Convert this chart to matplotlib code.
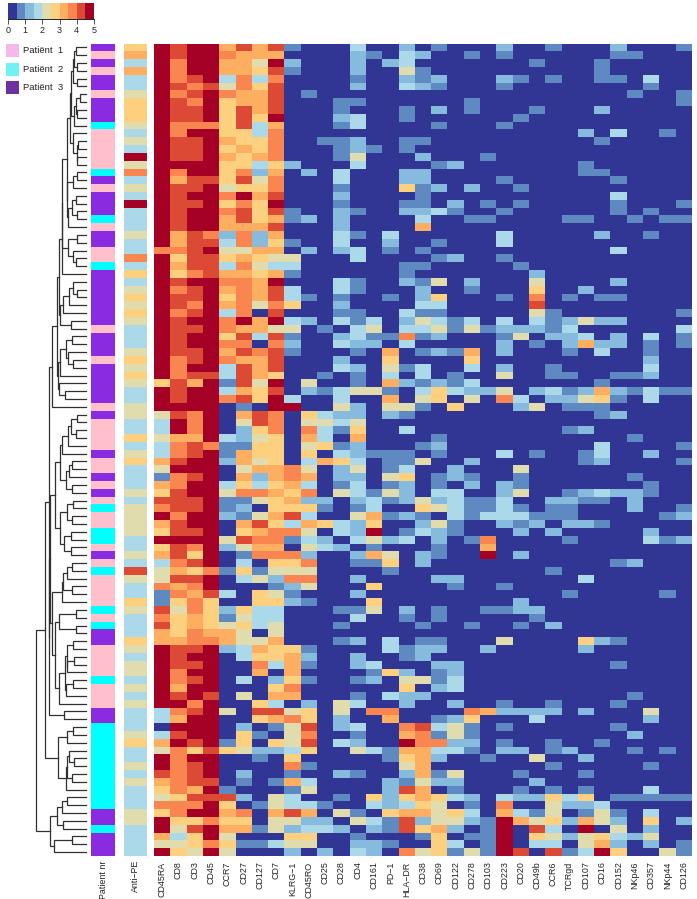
import numpy as np
import matplotlib
matplotlib.use('Agg')
import matplotlib.pyplot as plt
from matplotlib.colors import ListedColormap, BoundaryNorm
from matplotlib.patches import Rectangle

plt.rcParams['font.family'] = ['Liberation Sans', 'DejaVu Sans']

W, H = 697, 899

markers = ['CD45RA', 'CD8', 'CD3', 'CD45', 'CCR7', 'CD27', 'CD127', 'CD7', 'KLRG\u22121', 'CD45RO', 'CD25', 'CD28',
           'CD4', 'CD161', 'PD\u22121', 'HLA\u2212DR', 'CD38', 'CD69', 'CD122', 'CD278', 'CD103', 'CD223', 'CD20',
           'CD49b', 'CCR6', 'TCRgd', 'CD107', 'CD16', 'CD152', 'NKp46', 'CD357', 'NKp44', 'CD126']

bin_colors = ['#313695', '#5f8ac1', '#87bbdd', '#abd9e9', '#e0dcae', '#fdd080', '#fdae61', '#f98650', '#dc4a35', '#a50026']
patient_colors = ['#ffc0cb', '#00ffff', '#8a2be2']
legend_colors = ['#f4b8ea', '#70f2f5', '#7030a0']
legend_labels = ['Pati\u00ebnt  1', 'Pati\u00ebnt  2', 'Pati\u00ebnt  3']

# patient number per row, top to bottom
patient = ('3131331333' '2111112313' '3321331123' '3333331333' '1333331311'
           '1131131312' '1122131211' '1121233111' '1211133222' '2222222233' '2333')

# colour bin (0-9, each bin is 0.5 wide) per row
anti_pe = ('5636334555' '4343947343' '9333433735' '3454543334' '5454334433'
           '5345333434' '4443343843' '3543335434' '4343433345' '3343433344' '3333')

# CD45RA .. CD28
left_levels = [
    '989968681000', '989976660000', '979966492000', '979966581000', '978937370000', '987847580000',
    '978976680100', '987956680001', '988958680001', '988958590002', '977758360001', '979955370000',
    '988965570011', '988956570001', '988965670001', '999955352000', '979957260203', '968858470003',
    '988945570001', '989979680002', '988957590001', '989978581002', '989968561202', '989966680002',
    '968727260003', '968837251003', '778944660202', '958856544000', '968837433000', '957866561000',
    '989977690003', '978967683003', '988957683101', '987967475002', '978937080001', '989979693203',
    '988976644010', '989958381002', '989977072003', '988968781000', '978976680002', '979938680003',
    '978838650010', '586918490400', '989936580213', '989978593003', '999901099004', '487906870532',
    '397904870443', '397902570731', '466932450630', '378711550451', '378916550503', '689926450365',
    '499904667402', '178906267602', '679935356301', '589947765704', '888911456220', '788912055510',
    '979921468300', '689906853653', '588905677403', '999948771320', '587924660432', '685901777200',
    '378903055700', '465715144400', '488903427700', '767900012400', '176830541000', '157500552100',
    '847525330001', '756514330000', '856545340001', '657664040000', '667764460001', '988923655100',
    '989903556200', '988900736100', '979900606000', '978903025100', '969900057000', '989804066000',
    '997900530204', '378940884504', '369900567502', '099902014802', '389905104700', '698915054803',
    '475854223500', '979900105000', '978900007100', '878902001002', '678801016300', '576910001400',
    '458882043001', '777950143310', '579967068604', '955755044220', '948966142332', '635940005500',
    '445751134400', '954940002020',
]

# CD4 .. CD126
right_levels = [
    '3002 0100 0200 1000 20001', '2103 2001 0100 0000 11000', '2023 0000 0001 0001 00000', '2004 1000 0000 0001 00000',
    '1002 1200 0210 1001 10300', '2003 2100 0100 0000 00100', '0000 0000 0000 0000 01001', '1000 0001 0000 0000 00001',
    '0001 0201 0001 0002 00000', '3001 0000 0010 0000 00000', '3000 0100 0100 0000 00000', '0000 0000 0000 0020 30010',
    '2001 1000 0000 0001 00000', '2101 0000 0000 0000 00000', '4000 2000 1000 0000 00000', '3000 0120 0000 0010 00000',
    '0002 2000 0000 0011 00000', '0002 2000 0100 0000 10000', '0005 1202 0010 0000 00000', '0000 1000 0000 0000 30000',
    '0001 1020 1010 0000 10001', '1002 2310 0100 0000 10100', '0000 3001 1000 0110 01011', '0000 6000 0000 0000 00000',
    '1030 0000 0300 0002 00100', '0020 0100 0300 0000 00000', '3010 1000 0000 0000 30000', '3000 0120 0100 0000 00000',
    '0001 1000 0010 0000 00000', '0001 0000 0002 0000 00000', '1002 1402 0004 0000 20000', '1000 2001 0005 0020 00000',
    '0010 2500 0107 0101 10000', '0000 3300 0008 0000 00000', '1003 1100 0004 1000 00001', '1302 4313 0303 1242 20000',
    '3403 3414 1222 1300 00003', '3117 1200 0140 2230 20301', '2203 0000 0201 0262 20101', '1060 1216 0200 0103 00100',
    '0050 0005 0000 0000 00200', '2041 3003 0200 1000 00300', '1030 3010 0400 1100 11200', '1062 1213 0000 0001 00000',
    '4410 3532 2402 3126 21311', '0060 4504 0730 2245 10300', '2044 1050 0024 0111 00000', '2021 0000 0000 0001 20000',
    '4000 0000 0000 0000 00000', '5003 0000 0000 0120 00000', '6000 0100 0000 0000 01000', '2000 1200 0000 0003 00001',
    '2111 0100 0301 0013 00200', '3011 4002 0000 0012 00001', '4013 0020 0040 0000 00000', '2045 0121 0010 0000 01000',
    '3012 0102 0210 0000 00100', '3142 0330 0240 0123 22100', '2312 4231 1300 2211 02000', '1300 5431 1310 1100 02001',
    '4612 1031 3331 1100 00012', '2500 2410 0212 0221 00000', '2901 3210 0020 2000 00200', '3423 0201 7000 0100 00312',
    '0100 0100 6000 0000 00000', '2640 2100 9020 0000 00000', '1150 2000 0000 0000 12000', '0010 0000 0000 1000 00000',
    '2000 0220 0000 0030 00000', '0500 0010 0100 0000 00000', '2000 0000 0000 0100 00010', '0500 0000 0020 0000 00000',
    '1402 0100 1122 0000 00000', '3001 0100 0001 0000 00000', '0000 1001 0010 2000 00000', '0000 0000 0000 0000 00000',
    '2030 1100 0400 0052 10000', '0031 2200 2000 0020 00000', '2001 2000 0000 0000 00000', '2300 0220 0000 0000 10000',
    '0152 0120 0000 0000 00000', '1204 4130 0000 0000 00000', '0005 0230 0000 0000 00000', '1032 2000 0000 0000 01000',
    '3002 0020 0100 1000 10000', '0770 0007 6222 2020 00400', '0060 0125 0003 0000 00200', '3007 8341 0100 0000 10000',
    '1006 7141 0000 0000 02000', '2009 7722 0100 1001 00000', '4316 6331 0220 1200 01010', '0015 6200 1004 0020 00000',
    '0004 6000 0000 1000 00100', '1002 6140 0010 0010 00000', '0021 4220 0002 0000 00000', '0028 6010 0010 1010 00300',
    '0525 6532 0322 5350 11111', '0323 5401 0700 4223 00000', '1056 6453 0631 4014 10300', '4318 2442 1964 5264 20502',
    '0218 5620 1908 3090 40200', '1000 1501 1905 4245 32400', '2210 0530 1903 3046 20201', '3207 4514 1980 8139 50041',
]

# dendrogram: [merge height, upper branch, lower branch], 0 = a leaf
n2 = lambda h: [h, 0, 0]
t_0_10 = [44, [39, [35, n2(29), n2(27)], n2(27)], [35, [29, n2(17), n2(27)], 0]]
t_11_15 = [39, 0, [25, n2(24), n2(25)]]
t_16_23 = [55, [38, n2(25), 0], [52, [40, n2(29), n2(25)], 0]]
t_0_23 = [57, [48, t_0_10, t_11_15], t_16_23]
t_24_28 = [52, n2(25), [37, 0, n2(29)]]
t_0_29 = [72, [70, t_0_23, t_24_28], 0]
t_30_36 = [75, [67, [50, [37, 0, n2(25)], 0], 0], n2(45)]
t_37_45 = [82, [77, [60, n2(40), [53, 0, n2(37)]], 0], [79, 0, n2(62)]]
t_0_46 = [100, [85, [80, t_0_29, t_30_36], t_37_45], 0]
t_47_57 = [75, [72, [52, [45, n2(25), n2(30)], 0], 0], [60, [50, n2(42), 0], n2(40)]]
t_58_65 = [77, [55, n2(39), n2(40)], [65, n2(45), n2(45)]]
t_66_71 = [72, [68, [55, n2(40), 0], n2(42)], 0]
t_72_84 = [90, [78, n2(30), n2(30)], [80, [62, [57, n2(37), [55, n2(35), 0]], [60, n2(37), 0]], 0]]
t_47_84 = [105, [90, t_47_57, t_58_65], [100, t_66_71, t_72_84]]
t_87_95 = [82, [55, n2(37), 0], [60, [55, [50, 0, n2(35)], n2(42)], 0]]
t_96_103 = [107, [85, [72, n2(57), 0], n2(69)], [95, n2(40), 0]]
tree = [147, [120, [110, t_0_46, [109, t_47_84, n2(65)]], t_87_95], t_96_103]

level_rows = [list(a + b.replace(' ', '')) for a, b in zip(left_levels, right_levels)]
levels = np.array(level_rows, dtype=float)
values = levels * 0.5 + 0.25
pe_values = np.array(list(anti_pe), dtype=float) * 0.5 + 0.25
pat_values = np.array(list(patient), dtype=int)
n_rows, n_cols = values.shape

bounds = np.arange(0, 5.5, 0.5)
cmap = ListedColormap(bin_colors)
norm = BoundaryNorm(bounds, cmap.N)
pat_cmap = ListedColormap(patient_colors)


def px_axes(x0, y0, x1, y1):
    return fig.add_axes([x0 / W, 1 - y1 / H, (x1 - x0) / W, (y1 - y0) / H])


def draw_node(ax, node, next_leaf):
    # returns the row position and height of a branch
    if node == 0:
        y = next_leaf[0]
        next_leaf[0] += 1
        return y, 0
    h, upper, lower = node
    y1, h1 = draw_node(ax, upper, next_leaf)
    y2, h2 = draw_node(ax, lower, next_leaf)
    ax.plot([h1, h, h, h2], [y1, y1, y2, y2], color='#303030', lw=0.9, solid_joinstyle='miter', clip_on=False)
    return (y1 + y2) / 2, h


fig = plt.figure(figsize=(W / 100, H / 100), dpi=100)

# colour key
cax = px_axes(8, 3, 94, 19)
cax.pcolormesh(bounds, [0, 1], bounds[:-1].reshape(1, -1) + 0.25, cmap=cmap, norm=norm)
cax.set_xticks(range(6))
cax.set_yticks([])
cax.tick_params(axis='x', length=3.5, width=0.6, pad=1.5, labelsize=6.5, color='#333333', labelcolor='#222222')
for side in ['top', 'left', 'right']:
    cax.spines[side].set_visible(False)
cax.spines['bottom'].set_linewidth(0.6)

# legend
leg = px_axes(0, 0, W, H)
leg.set_xlim(0, W)
leg.set_ylim(H, 0)
leg.axis('off')
leg.set_zorder(-1)
for i, (c, lab) in enumerate(zip(legend_colors, legend_labels)):
    y = 44 + i * 18.5
    leg.add_patch(Rectangle((6, y), 13, 13, facecolor=c, edgecolor='none'))
    leg.text(23, y + 6.5, lab, va='center', ha='left', fontsize=6.8, color='#222222')

# dendrogram
dax = px_axes(36, 43.5, 86, 856)
dax.set_xlim(147, 0)
dax.set_ylim(n_rows - 0.5, -0.5)
draw_node(dax, tree, [0])
dax.axis('off')

# patient strip
pax = px_axes(91, 43.5, 115, 856)
pax.pcolormesh(np.arange(2), np.arange(n_rows + 1), pat_values.reshape(-1, 1), cmap=pat_cmap, vmin=0.5, vmax=3.5)
pax.set_ylim(n_rows, 0)

# anti-PE strip
aax = px_axes(124, 43.5, 147, 856)
aax.pcolormesh(np.arange(2), np.arange(n_rows + 1), pe_values.reshape(-1, 1), cmap=cmap, norm=norm)
aax.set_ylim(n_rows, 0)

# heatmap
hax = px_axes(154, 43.5, 692, 856)
hax.pcolormesh(np.arange(n_cols + 1), np.arange(n_rows + 1), values, cmap=cmap, norm=norm)
hax.set_ylim(n_rows, 0)
hax.set_yticks([])
hax.set_xticks(np.arange(n_cols) + 0.5)
hax.set_xticklabels(markers, rotation=90, fontsize=6.4, color='#222222')
hax.tick_params(axis='x', length=0, pad=4)

for ax, lab in [(pax, 'Patient nr'), (aax, 'Anti\u2212PE')]:
    ax.set_yticks([])
    ax.set_xticks([0.5])
    ax.set_xticklabels([lab], rotation=90, fontsize=6.4, color='#222222')
    ax.tick_params(axis='x', length=0, pad=3)

for ax in [pax, aax, hax]:
    for s in ax.spines.values():
        s.set_visible(False)

fig.savefig('out.png', dpi=100)
